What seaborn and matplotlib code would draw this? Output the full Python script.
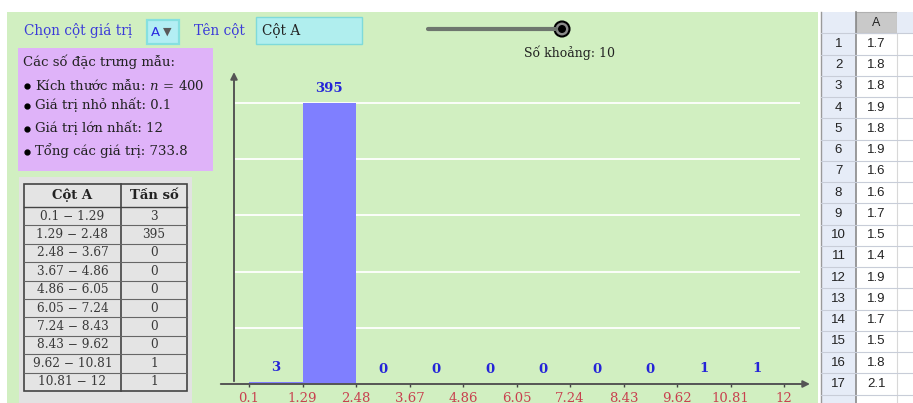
import numpy as np
import pandas as pd
import seaborn as sns
import matplotlib.pyplot as plt
from matplotlib.patches import Rectangle, Circle

# data
edges = [0.1, 1.29, 2.48, 3.67, 4.86, 6.05, 7.24, 8.43, 9.62, 10.81, 12]
edge_labels = ["0.1", "1.29", "2.48", "3.67", "4.86", "6.05", "7.24", "8.43", "9.62", "10.81", "12"]
freq = [3, 395, 0, 0, 0, 0, 0, 0, 1, 1]
grid_levels = [79, 158, 237, 316, 395]
sheet_rows = list(range(1, 18))
sheet_values = [1.7, 1.8, 1.8, 1.9, 1.8, 1.9, 1.6, 1.6, 1.7, 1.5, 1.4, 1.9, 1.9, 1.7, 1.5, 1.8, 2.1]
stats_title = "Các số đặc trưng mẫu:"
stats_lines = ["Kích thước mẫu: $n\\,=\\,400$", "Giá trị nhỏ nhất: 0.1",
               "Giá trị lớn nhất: 12", "Tổng các giá trị: 733.8"]
n_bins = 10

SERIF = "DejaVu Serif"
plt.rcParams["font.family"] = [SERIF]
plt.rcParams["mathtext.fontset"] = "dejavuserif"

GREEN = "#d1efc1"
BLUE_TXT = "#3b3bd9"
W, H = 913, 403

fig = plt.figure(figsize=(W / 100, H / 100), dpi=100)
fig.patch.set_facecolor("white")

# pixel-space canvas for the GeoGebra widgets
bg = fig.add_axes([0, 0, 1, 1])
bg.set_xlim(0, W)
bg.set_ylim(H, 0)
bg.axis("off")

bg.add_patch(Rectangle((7, 12), 811, 391, facecolor=GREEN, edgecolor="none"))

# top controls
bg.text(24, 31, "Chọn cột giá trị", color=BLUE_TXT, fontsize=9.8, va="center")
bg.add_patch(Rectangle((147, 20), 32, 24, facecolor="#b3eef4", edgecolor="#86e0e0", lw=1.6))
bg.text(151, 33, "A", color="#2a2ae0", fontsize=9.5, family="DejaVu Sans", va="center")
bg.text(163, 31.5, "▼", color="#5a5a5a", fontsize=8, family="DejaVu Sans", va="center")
bg.text(194, 31, "Tên cột", color=BLUE_TXT, fontsize=9.8, va="center")
bg.add_patch(Rectangle((256, 17), 106, 27, facecolor="#b0eeee", edgecolor="#7fdada", lw=1))
bg.text(262, 30, "Cột A", color="#222222", fontsize=9.8, va="center")

# slider
bg.plot([428, 556], [29, 29], color="#6e766e", lw=3, solid_capstyle="round")
bg.add_patch(Circle((562, 29), 7.5, facecolor="#8a8a8a", edgecolor="black", lw=1.5))
bg.add_patch(Circle((562, 29), 4, facecolor="black", edgecolor="none"))
bg.text(570, 53, f"Số khoảng: {n_bins}", color="#222222", fontsize=9, ha="center", va="center")

# stats box
bg.add_patch(Rectangle((18, 48), 195, 123, facecolor="#dfb3f9", edgecolor="none"))
bg.text(23, 62, stats_title, color="#222222", fontsize=9.5, va="center")
for y, line in zip([85, 105, 128, 151], stats_lines):
    bg.plot(27, y + 1, "o", color="black", ms=3.5)
    bg.text(35, y, line, color="#222222", fontsize=9.5, va="center")

# frequency table
bg.add_patch(Rectangle((19, 177), 173, 226, facecolor="#e2e2e2", edgecolor="none"))
tx0, tx1, tx2 = 24, 121, 187
ty0, ty_head, row_h = 184, 207, 18.4
n_rows = len(freq)
ty_end = ty_head + n_rows * row_h
bg.add_patch(Rectangle((tx0, ty0), tx2 - tx0, ty_end - ty0, facecolor="#e4e4e4",
                       edgecolor="#444444", lw=1.2))
bg.plot([tx1, tx1], [ty0, ty_end], color="#444444", lw=1.2)
bg.plot([tx0, tx2], [ty_head, ty_head], color="#444444", lw=1)
for i in range(1, n_rows):
    y = ty_head + i * row_h
    bg.plot([tx0, tx2], [y, y], color="#666666", lw=0.8)
bg.text((tx0 + tx1) / 2, (ty0 + ty_head) / 2, "Cột A", fontsize=9.5, fontweight="bold",
        ha="center", va="center", color="#222222")
bg.text((tx1 + tx2) / 2, (ty0 + ty_head) / 2, "Tần số", fontsize=9.5, fontweight="bold",
        ha="center", va="center", color="#222222")
for i, f in enumerate(freq):
    y = ty_head + (i + 0.5) * row_h
    bg.text((tx0 + tx1) / 2, y, f"{edge_labels[i]} − {edge_labels[i + 1]}", fontsize=8.7,
            ha="center", va="center", color="#3a3a3a")
    bg.text((tx1 + tx2) / 2, y, str(f), fontsize=8.7, ha="center", va="center", color="#3a3a3a")

# spreadsheet view
sx0, sx1, sx2, sx3 = 821, 856, 897, 913
sy0, srow = 12, 21.25
bg.add_patch(Rectangle((sx0, sy0), W - sx0, H - sy0, facecolor="white", edgecolor="none"))
bg.add_patch(Rectangle((sx0, sy0), sx1 - sx0, H - sy0, facecolor="#e6ecf7", edgecolor="none"))
bg.add_patch(Rectangle((sx1, sy0), sx2 - sx1, srow, facecolor="#c9c9c9", edgecolor="#b0b0b0", lw=0.8))
bg.add_patch(Rectangle((sx2, sy0), sx3 - sx2, srow, facecolor="#e6ecf7", edgecolor="none"))
bg.plot([sx0, sx0], [sy0, H], color="#9a9a9a", lw=1)
bg.plot([sx1, sx1], [sy0, H], color="#8a8a8a", lw=1.2)
bg.plot([sx2, sx2], [sy0 + srow, H], color="#d8d8d8", lw=0.8)
bg.text((sx1 + sx2) / 2, sy0 + srow / 2, "A", fontsize=9, family="Liberation Sans",
        ha="center", va="center", color="#222222")
for r, v in zip(sheet_rows, sheet_values):
    yc = sy0 + (r + 0.5) * srow
    bg.plot([sx0, sx3], [sy0 + r * srow, sy0 + r * srow], color="#c8cdd8", lw=0.8)
    bg.text((sx0 + sx1) / 2, yc, str(r), fontsize=9.5, family="Liberation Sans",
            ha="center", va="center", color="#222222")
    bg.text((sx1 + sx2) / 2, yc, f"{v}", fontsize=9.5, family="Liberation Sans",
            ha="center", va="center", color="#222222")
bg.plot([sx0, sx3], [sy0 + 18 * srow, sy0 + 18 * srow], color="#c8cdd8", lw=0.8)

# histogram
px_x = (784 - 249) / (edges[-1] - edges[0])
px_y = (384 - 103) / max(freq)
x_lo = edges[0] - (249 - 218) / px_x
x_hi = edges[-1] + (815 - 784) / px_x
y_hi = (384 - 65) / px_y
y_axis_x = edges[0] - (249 - 234) / px_x

ax = fig.add_axes([218 / W, (H - 384) / H, (815 - 218) / W, (384 - 65) / H])
ax.set_facecolor("none")
for s in ax.spines.values():
    s.set_visible(False)

centers = [(a + b) / 2 for a, b in zip(edges[:-1], edges[1:])]
df = pd.DataFrame({"center": centers, "freq": freq})
ax.hlines(grid_levels, y_axis_x, edges[-1] + 16 / px_x, color="white", lw=1.3, zorder=0)
sns.histplot(data=df, x="center", weights="freq", bins=edges, ax=ax,
             color="#7f7fff", alpha=1, linewidth=0, zorder=2)
ax.set_xlim(x_lo, x_hi)
ax.set_ylim(0, y_hi)
ax.set_xlabel("")
ax.set_ylabel("")
ax.set_yticks([])
ax.set_xticks(edges)
ax.set_xticklabels(edge_labels)
ax.tick_params(axis="x", length=2, width=1, color="#444444", labelcolor="#c8404f",
               labelsize=9.5, pad=3.5)

ax.annotate("", xy=(x_hi - 0.05, 0), xytext=(x_lo, 0),
            arrowprops=dict(arrowstyle="-|>", color="#555555", lw=1.4, mutation_scale=10),
            zorder=3, annotation_clip=False)
ax.annotate("", xy=(y_axis_x, y_hi - 6), xytext=(y_axis_x, 0),
            arrowprops=dict(arrowstyle="-|>", color="#555555", lw=1.4, mutation_scale=10),
            zorder=3, annotation_clip=False)

for c, f in zip(centers, freq):
    ax.annotate(str(f), (c, f), xytext=(0, 10.5), textcoords="offset points",
                ha="center", va="center", color="#2424d8", fontweight="bold", fontsize=9.5)

fig.savefig("out.png", dpi=100)
